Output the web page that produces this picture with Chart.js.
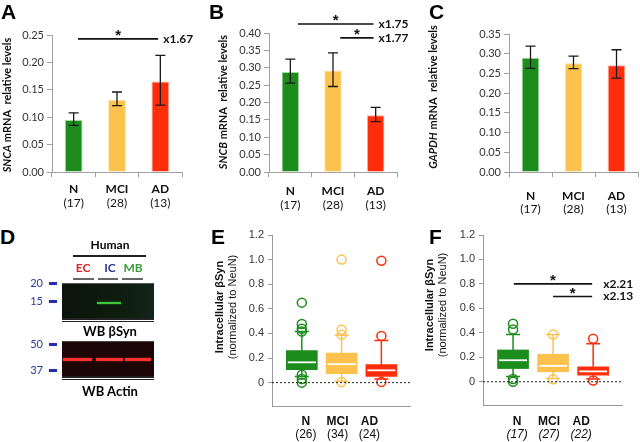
<!DOCTYPE html>
<html>
<head>
<meta charset="utf-8">
<script src="https://cdn.jsdelivr.net/npm/chart.js@4.4.1/dist/chart.umd.min.js"></script>
<style>
  body { margin: 0; width: 640px; height: 442px; overflow: hidden; position: relative; background: #fff; font-family: 'Liberation Sans', Arial, sans-serif; }
  canvas { position: absolute; }
  .panel { position: absolute; font: bold 21px 'Liberation Sans', Arial, sans-serif; line-height: 21px; color: #000; }
  .t { position: absolute; text-align: center; font: bold 12px Lato, sans-serif; line-height: 14px; }
  .r { position: absolute; }
</style>
</head>
<body>
<canvas id="chartA" width="210" height="215" style="left:0;top:0"></canvas>
<canvas id="chartB" width="210" height="215" style="left:210px;top:0"></canvas>
<canvas id="chartC" width="220" height="215" style="left:420px;top:0"></canvas>
<canvas id="chartE" width="210" height="222" style="left:210px;top:220px"></canvas>
<canvas id="chartF" width="220" height="222" style="left:420px;top:220px"></canvas>

<div class="panel" style="left:1px;top:1px">A</div>
<div class="panel" style="left:209px;top:1px">B</div>
<div class="panel" style="left:429px;top:1px">C</div>
<div class="panel" style="left:0;top:226px">D</div>
<div class="panel" style="left:211px;top:226px">E</div>
<div class="panel" style="left:429px;top:226px">F</div>

<!-- panel D: western blot -->
<div class="t" style="left:70px;top:238px;width:80px">Human</div>
<div class="r" style="left:73px;top:255px;width:73px;height:2px;background:#222"></div>
<div class="t" style="left:68px;top:261px;width:30px;color:#d42a2a">EC</div>
<div class="t" style="left:95px;top:261px;width:30px;color:#2a3590">IC</div>
<div class="t" style="left:118px;top:261px;width:30px;color:#3a9a3a">MB</div>
<div class="r" style="left:73px;top:278px;width:21px;height:2px;background:#666"></div>
<div class="r" style="left:98px;top:278px;width:20px;height:2px;background:#666"></div>
<div class="r" style="left:122px;top:278px;width:21px;height:2px;background:#666"></div>

<div class="t" style="left:20px;top:276px;width:23px;text-align:right;font-weight:normal;font-size:11px;color:#2a3a9a">20</div>
<div class="r" style="left:49px;top:282px;width:8px;height:3px;background:#2030b0"></div>
<div class="t" style="left:20px;top:294px;width:23px;text-align:right;font-weight:normal;font-size:11px;color:#2a3a9a">15</div>
<div class="r" style="left:49px;top:300px;width:8px;height:3px;background:#2030b0"></div>
<div class="r" style="left:62px;top:283px;width:92px;height:35px;background:linear-gradient(90deg,#0b150b,#0e1c0e 60%,#13241a);border-top:1px solid #555"></div>
<div class="r" style="left:97px;top:302px;width:24px;height:2px;background:#3ec83e;box-shadow:0 0 2px #2a8a2a"></div>
<div class="r" style="left:62px;top:318px;width:92px;height:2px;background:#222"></div>
<div class="r" style="left:62px;top:321px;width:92px;height:1px;background:#222"></div>
<div class="t" style="left:60px;top:324px;width:100px;font-size:13px">WB βSyn</div>

<div class="t" style="left:20px;top:337px;width:23px;text-align:right;font-weight:normal;font-size:11px;color:#2a3a9a">50</div>
<div class="r" style="left:49px;top:343px;width:8px;height:3px;background:#2030b0"></div>
<div class="t" style="left:20px;top:363px;width:23px;text-align:right;font-weight:normal;font-size:11px;color:#2a3a9a">37</div>
<div class="r" style="left:49px;top:369px;width:8px;height:3px;background:#2030b0"></div>
<div class="r" style="left:62px;top:341px;width:92px;height:35px;background:#1c0606;border-top:1px solid #444"></div>
<div class="r" style="left:63px;top:358px;width:29px;height:3px;background:#ff3030;box-shadow:0 0 2px #c02020"></div>
<div class="r" style="left:96px;top:358px;width:27px;height:3px;background:#ff3030;box-shadow:0 0 2px #c02020"></div>
<div class="r" style="left:125px;top:358px;width:26px;height:3px;background:#ff3030;box-shadow:0 0 2px #c02020"></div>
<div class="r" style="left:62px;top:376px;width:92px;height:2px;background:#222"></div>
<div class="r" style="left:62px;top:379px;width:92px;height:1px;background:#222"></div>
<div class="t" style="left:60px;top:384px;width:100px;font-size:13px">WB Actin</div>

<script>
// groups and colours shared by every panel
const groups = ['N', 'MCI', 'AD'];
const groupColors = ['#1c8c1c', '#fdc24e', '#ff2d0a'];
const groupEdges = ['#a9d6a9', '#fde2a6', '#ffad9c'];

// A: SNCA mRNA
const sncaMean = [0.095, 0.132, 0.165];
const sncaLow = [0.085, 0.121, 0.122];
const sncaHigh = [0.108, 0.146, 0.213];
// B: SNCB mRNA
const sncbMean = [0.288, 0.292, 0.163];
const sncbLow = [0.256, 0.246, 0.145];
const sncbHigh = [0.325, 0.343, 0.186];
// C: GAPDH mRNA
const gapdhMean = [0.290, 0.276, 0.271];
const gapdhLow = [0.263, 0.262, 0.238];
const gapdhHigh = [0.319, 0.294, 0.310];
const mrnaCounts = ['(17)', '(28)', '(13)'];

// E: intracellular bSyn, box plot
const eWhiskLow = [0.05, 0.012, 0.03];
const eQ1 = [0.105, 0.073, 0.051];
const eMedian = [0.165, 0.15, 0.10];
const eQ3 = [0.26, 0.24, 0.146];
const eWhiskHigh = [0.416, 0.385, 0.343];
const eOutliers = [[0.65, 0.476, 0.438, 0.416, 0.065, 0.03, 0.0], [1.0, 0.43, 0.39, 0.005], [0.99, 0.38, 0.006]];
const eCounts = ['(26)', '(34)', '(24)'];

// F: intracellular bSyn, box plot
const fWhiskLow = [0.044, 0.027, 0.022];
const fQ1 = [0.108, 0.081, 0.054];
const fMedian = [0.176, 0.13, 0.085];
const fQ3 = [0.26, 0.225, 0.122];
const fWhiskHigh = [0.387, 0.387, 0.31];
const fOutliers = [[0.474, 0.428, 0.022, 0.0], [0.387, 0.02], [0.352, 0.01]];
const fCounts = ['(17)', '(27)', '(22)'];

const boxTicks = [0, 0.2, 0.4, 0.6, 0.8, 1.0, 1.2];

function drawTitle(ctx, x, y, parts) {
    ctx.save();
    ctx.translate(x, y);
    ctx.rotate(-Math.PI / 2);
    ctx.textBaseline = 'middle';
    ctx.textAlign = 'left';
    let total = 0;
    parts.forEach(p => { ctx.font = p.font; total += ctx.measureText(p.text).width; });
    let cx = -total / 2;
    parts.forEach(p => {
        ctx.font = p.font;
        ctx.fillText(p.text, cx, 0);
        cx += ctx.measureText(p.text).width;
    });
    ctx.restore();
}

// titles, category labels and significance bars
const figureText = {
    id: 'figureText',
    afterDraw(chart, args, o) {
        const ctx = chart.ctx;
        const xs = chart.scales.x, ys = chart.scales.y;
        ctx.save();
        ctx.fillStyle = '#111';
        o.titles.forEach(t => drawTitle(ctx, t.x, t.y, t.parts));
        ctx.textAlign = 'center';
        ctx.textBaseline = 'middle';
        groups.forEach((g, i) => {
            const x = xs.getPixelForValue(o.labelAt[i]);
            ctx.font = o.nameFont;
            ctx.fillText(g, x, o.labelY[0]);
            ctx.font = o.countFont;
            ctx.fillText(o.counts[i], x, o.labelY[1]);
        });
        (o.sig || []).forEach(s => {
            const x1 = xs.getPixelForValue(s.from), x2 = xs.getPixelForValue(s.to), y = ys.getPixelForValue(s.y);
            ctx.strokeStyle = '#111';
            ctx.lineWidth = 1.6;
            ctx.beginPath();
            ctx.moveTo(x1, y);
            ctx.lineTo(x2, y);
            ctx.stroke();
            ctx.font = 'bold 15px "Liberation Sans"';
            ctx.textAlign = 'center';
            ctx.textBaseline = 'alphabetic';
            ctx.fillText('*', (x1 + x2) / 2, y + 1);
            ctx.font = o.sigFont;
            ctx.textAlign = 'left';
            ctx.textBaseline = 'middle';
            ctx.fillText(s.text, x2 + o.sigGap, y);
        });
        ctx.restore();
    }
};

const errorBars = {
    id: 'errorBars',
    afterDatasetsDraw(chart, args, o) {
        const meta = chart.getDatasetMeta(0), ys = chart.scales.y, ctx = chart.ctx;
        ctx.save();
        ctx.strokeStyle = '#1a1a1a';
        ctx.lineWidth = 1.3;
        meta.data.forEach((bar, i) => {
            const top = ys.getPixelForValue(o.high[i]), bot = ys.getPixelForValue(o.low[i]);
            ctx.beginPath();
            ctx.moveTo(bar.x, top); ctx.lineTo(bar.x, bot);
            ctx.moveTo(bar.x - 5, top); ctx.lineTo(bar.x + 5, top);
            ctx.moveTo(bar.x - 5, bot); ctx.lineTo(bar.x + 5, bot);
            ctx.stroke();
        });
        ctx.restore();
    }
};

const boxParts = {
    id: 'boxParts',
    afterDatasetsDraw(chart, args, o) {
        const xs = chart.scales.x, ys = chart.scales.y, ctx = chart.ctx, area = chart.chartArea;
        ctx.save();
        groups.forEach((g, i) => {
            const x = xs.getPixelForValue(i + 1);
            const yLo = ys.getPixelForValue(o.low[i]), yQ1 = ys.getPixelForValue(o.q1[i]);
            const yQ3 = ys.getPixelForValue(o.q3[i]), yHi = ys.getPixelForValue(o.high[i]);
            const yMed = ys.getPixelForValue(o.median[i]);
            ctx.strokeStyle = groupColors[i];
            ctx.lineWidth = 1.5;
            ctx.beginPath();
            ctx.moveTo(x, yQ3); ctx.lineTo(x, yHi);
            ctx.moveTo(x - 7, yHi); ctx.lineTo(x + 7, yHi);
            ctx.moveTo(x, yQ1); ctx.lineTo(x, yLo);
            ctx.moveTo(x - 7, yLo); ctx.lineTo(x + 7, yLo);
            ctx.stroke();
            ctx.strokeStyle = '#fff';
            ctx.lineWidth = 1.8;
            ctx.beginPath();
            ctx.moveTo(x - 14, yMed); ctx.lineTo(x + 14, yMed);
            ctx.stroke();
        });
        const y0 = ys.getPixelForValue(0);
        ctx.strokeStyle = '#222';
        ctx.lineWidth = 1;
        ctx.setLineDash([2, 2]);
        ctx.beginPath();
        ctx.moveTo(area.left, y0); ctx.lineTo(area.right, y0);
        ctx.stroke();
        ctx.restore();
    }
};

function barPanel(id, means, low, high, yMax, box, title, labelY, sig) {
    return new Chart(document.getElementById(id), {
        type: 'bar',
        data: {
            labels: groups,
            datasets: [{
                data: means,
                backgroundColor: groupColors,
                borderColor: groupEdges,
                borderWidth: 1,
                barPercentage: 0.41,
                categoryPercentage: 1
            }]
        },
        options: {
            responsive: false,
            animation: false,
            layout: { padding: { left: 0, top: box.top, right: box.right, bottom: 0 } },
            plugins: {
                legend: { display: false },
                tooltip: { enabled: false },
                errorBars: { low: low, high: high },
                figureText: {
                    titles: [title],
                    labelAt: [0, 1, 2],
                    labelY: labelY,
                    counts: mrnaCounts,
                    nameFont: 'bold 12px Lato',
                    countFont: '12px Lato',
                    sigFont: 'bold 12px Lato',
                    sigGap: 5,
                    sig: sig
                }
            },
            scales: {
                x: {
                    ticks: { display: false },
                    grid: { drawOnChartArea: false, tickLength: 5, color: '#a0a0a0' },
                    border: { color: '#a0a0a0' },
                    afterFit: s => { s.height = box.xh; }
                },
                y: {
                    min: 0,
                    max: yMax,
                    ticks: {
                        stepSize: 0.05,
                        color: '#333',
                        padding: 3,
                        font: { family: 'Lato', size: 11 },
                        callback: v => v.toFixed(2)
                    },
                    grid: { drawOnChartArea: false, tickLength: 5, color: '#a0a0a0' },
                    border: { color: '#a0a0a0' },
                    afterFit: s => { s.width = box.left; }
                }
            }
        },
        plugins: [errorBars, figureText]
    });
}

function boxPanel(id, low, q1, median, q3, high, outliers, counts, countFont, box, titleX, titleY, sig) {
    const outPts = [], outColors = [];
    outliers.forEach((list, i) => list.forEach(v => { outPts.push({ x: i + 1, y: v }); outColors.push(groupColors[i]); }));
    return new Chart(document.getElementById(id), {
        type: 'bar',
        data: {
            datasets: [{
                data: groups.map((g, i) => ({ x: i + 1, y: [q1[i], q3[i]] })),
                backgroundColor: groupColors,
                barThickness: 31,
                borderWidth: 0
            }, {
                type: 'scatter',
                data: outPts,
                pointStyle: 'circle',
                pointRadius: 4.5,
                pointBorderWidth: 1.5,
                pointBorderColor: outColors,
                pointBackgroundColor: 'rgba(255,255,255,0)'
            }]
        },
        options: {
            responsive: false,
            animation: false,
            layout: { padding: { left: 0, top: box.top, right: box.right, bottom: 0 } },
            plugins: {
                legend: { display: false },
                tooltip: { enabled: false },
                boxParts: { low: low, q1: q1, median: median, q3: q3, high: high },
                figureText: {
                    titles: [
                        { x: titleX, y: titleY, parts: [{ text: 'Intracellular βSyn', font: 'bold 11px "Liberation Sans"' }] },
                        { x: titleX + 13, y: titleY, parts: [{ text: '(normalized to NeuN)', font: '11px "Liberation Sans"' }] }
                    ],
                    labelAt: [1.1, 1.9, 2.7],
                    labelY: [202, 215],
                    counts: counts,
                    nameFont: 'bold 12px "Liberation Sans"',
                    countFont: countFont,
                    sigFont: 'bold 12px Lato',
                    sigGap: 11,
                    sig: sig
                }
            },
            scales: {
                x: {
                    type: 'linear',
                    offset: false,
                    min: 0.25,
                    max: 3.72,
                    ticks: { display: false },
                    grid: { display: false, offset: false },
                    border: { color: '#999' },
                    afterFit: s => { s.height = box.xh; }
                },
                y: {
                    min: -0.19,
                    max: 1.2,
                    afterBuildTicks: s => { s.ticks = boxTicks.map(v => ({ value: v })); },
                    ticks: {
                        color: '#333',
                        padding: 4,
                        font: { family: 'Liberation Sans', size: 11 },
                        callback: v => v === 0 ? '0' : v.toFixed(1)
                    },
                    grid: { drawOnChartArea: false, tickLength: 4, color: '#999' },
                    border: { color: '#999' },
                    afterFit: s => { s.width = box.left; }
                }
            }
        },
        plugins: [boxParts, figureText]
    });
}

document.addEventListener('DOMContentLoaded', () => {
    barPanel('chartA', sncaMean, sncaLow, sncaHigh, 0.25,
        { left: 52, top: 35, right: 28, xh: 43 },
        { x: 7, y: 105, parts: [{ text: 'SNCA', font: 'italic bold 11px Lato' }, { text: ' mRNA  relative levels', font: 'bold 11px Lato' }] },
        [189, 203],
        [{ from: 0.1, to: 1.95, y: 0.243, text: 'x1.67' }]);

    barPanel('chartB', sncbMean, sncbLow, sncbHigh, 0.40,
        { left: 59, top: 33, right: 23, xh: 43 },
        { x: 13, y: 102, parts: [{ text: 'SNCB', font: 'italic bold 11px Lato' }, { text: ' mRNA  relative levels', font: 'bold 11px Lato' }] },
        [191, 205],
        [{ from: 0.18, to: 1.95, y: 0.426, text: 'x1.75' }, { from: 1.17, to: 1.95, y: 0.386, text: 'x1.77' }]);

    barPanel('chartC', gapdhMean, gapdhLow, gapdhHigh, 0.35,
        { left: 89, top: 34, right: 2, xh: 43 },
        { x: 13, y: 97, parts: [{ text: 'GAPDH', font: 'italic bold 11px Lato' }, { text: ' mRNA  relative levels', font: 'bold 11px Lato' }] },
        [196, 209],
        []);

    boxPanel('chartE', eWhiskLow, eQ1, eMedian, eQ3, eWhiskHigh, eOutliers, eCounts, '12px "Liberation Sans"',
        { left: 62, top: 15, right: 10, xh: 36 }, 10, 87, []);

    boxPanel('chartF', fWhiskLow, fQ1, fMedian, fQ3, fWhiskHigh, fOutliers, fCounts, 'italic 12px "Liberation Sans"',
        { left: 63, top: 15, right: 18, xh: 37 }, 10, 85,
        [{ from: 1.02, to: 2.975, y: 0.8, text: 'x2.21' }, { from: 2.0, to: 2.975, y: 0.697, text: 'x2.13' }]);
});
</script>
</body>
</html>
